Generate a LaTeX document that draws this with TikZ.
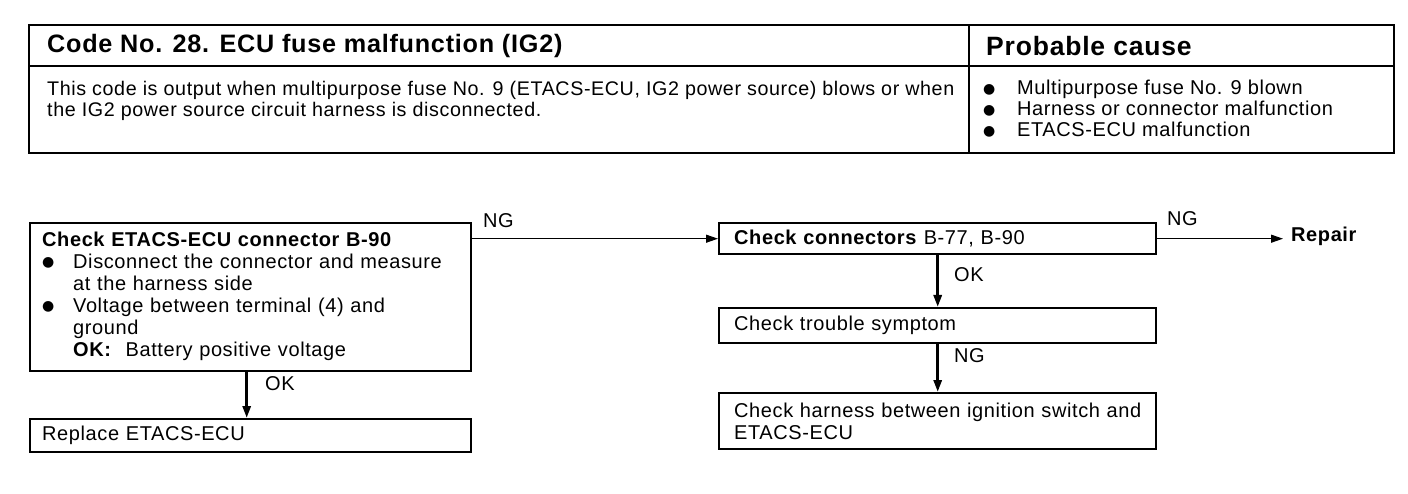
\documentclass[tikz,border=0pt]{standalone}
\usepackage{fontspec}
\setmainfont{Liberation Sans}[LetterSpace=3]
\newfontfamily\dv{DejaVu Sans}
\usetikzlibrary{arrows.meta}
\newcommand{\bul}{\raisebox{1.5pt}{\dv\fontsize{14}{14}\selectfont ●}}
\begin{document}
\begin{tikzpicture}[x=1pt,y=-1pt,
  body/.style={font=\fontsize{20}{22}\selectfont},
  box/.style={draw, line width=2.4pt, anchor=north west, inner ysep=0pt, align=left, body},
  txt/.style={body, inner sep=0pt, align=left},
  head/.style={font=\bfseries\fontsize{25.2}{30}\selectfont, inner sep=0pt, anchor=west},
  flow/.style={line width=2.8pt, -{Triangle[length=12pt,width=8pt]}},
  hflow/.style={line width=1.2pt, -{Triangle[length=12pt,width=8pt]}},
  lbl/.style={body, anchor=west, inner sep=0pt}]
\useasboundingbox (0,0) rectangle (1408,494);
% table
\draw[line width=2.4pt] (29,25) rectangle (1394,153);
\draw[line width=1.8pt] (29,66) -- (1394,66);
\draw[line width=1.8pt] (969,25) -- (969,153);
\node[head] (title) at (47,46) {Code No. 28. ECU fuse malfunction (IG2)};
\node[head, font=\bfseries\fontsize{26.5}{30}\selectfont] (pc) at (986,46) {Probable cause};
\node[txt, anchor=north west, font=\fontsize{19.7}{21.5}\selectfont] (desc) at (47,81) {This code is output when multipurpose fuse No. 9 (ETACS-ECU, IG2 power source) blows or when\\the IG2 power source circuit harness is disconnected.};
\node[txt, anchor=north west, font=\fontsize{20}{21}\selectfont] (causes) at (983,80) {\makebox[34pt][l]{\bul}Multipurpose fuse No. 9 blown\\\makebox[34pt][l]{\bul}Harness or connector malfunction\\\makebox[34pt][l]{\bul}ETACS-ECU malfunction};
% flow boxes
\node[box, minimum width=441pt, minimum height=148pt, text width=417pt, inner xsep=12pt] (b1) at (29,222)
 {\textbf{Check ETACS-ECU connector B-90}\\
  \makebox[31pt][l]{\bul}Disconnect the connector and measure\\
  \hspace*{31pt}at the harness side\\
  \makebox[31pt][l]{\bul}Voltage between terminal (4) and\\
  \hspace*{31pt}ground\\
  \hspace*{31pt}\textbf{OK:}\hspace{14pt}Battery positive voltage\\[-16pt]\mbox{}};
\node[box, minimum width=441pt, minimum height=33pt, text width=417pt, inner xsep=12pt] (b5) at (29,418) {Replace ETACS-ECU};
\node[box, minimum width=437pt, minimum height=31pt, text width=407pt, inner xsep=15pt] (b2) at (718,222) {\textbf{Check connectors} B-77, B-90};
\node[box, minimum width=437pt, minimum height=35pt, text width=407pt, inner xsep=15pt] (b3) at (718,307) {Check trouble symptom};
\node[box, minimum width=437pt, minimum height=56pt, text width=407pt, inner xsep=15pt] (b4) at (718,392) {Check harness between ignition switch and\\ETACS-ECU};
\node[lbl, font=\bfseries\fontsize{20}{22}\selectfont] (repair) at (1291,236) {Repair};
% connectors
\draw[hflow] (b1.east |- b2.west) -- (b2.west);
\node[lbl] (ng1) at (483,221) {NG};
\draw[hflow, shorten >=8pt] (b2.east) -- (b2.east -| repair.west);
\node[lbl] (ng2) at (1167,219) {NG};
\draw[flow] ([xshift=-4pt]b1.south) -- ([xshift=-4pt]b5.north);
\node[lbl] (ok1) at (265,384) {OK};
\draw[flow] (b2.south) -- (b3.north);
\node[lbl] (ok2) at (954,275) {OK};
\draw[flow] (b3.south) -- (b4.north);
\node[lbl] (ng3) at (954,356) {NG};
\end{tikzpicture}
\end{document}
